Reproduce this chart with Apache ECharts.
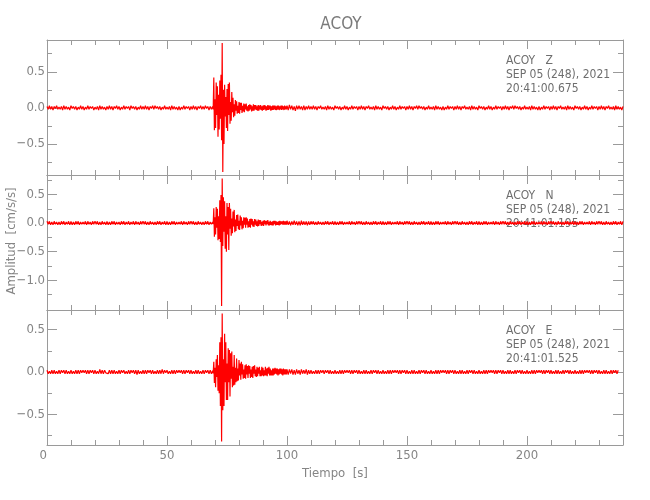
<!DOCTYPE html>
<html>
<head>
<meta charset="utf-8">
<script src="https://cdn.jsdelivr.net/npm/echarts@6/dist/echarts.min.js"></script>
<style>
html,body{margin:0;padding:0;background:#fff;}
#chart{width:650px;height:500px;}
</style>
</head>
<body>
<div id="chart"></div>
<script>
// ---- Data ----
const stationName = 'ACOY';
const components = ['Z', 'N', 'E'];
const dateLabel = 'SEP 05 (248), 2021';
const startTimes = ['20:41:00.675', '20:41:01.195', '20:41:01.525'];

const xTickValues = [0, 50, 100, 150, 200];
const xMinorValues = [10, 20, 30, 40, 60, 70, 80, 90, 110, 120, 130, 140, 160, 170, 180, 190, 210, 220, 230];

const yLimits = [[-0.93, 0.94], [-1.52, 0.84], [-0.86, 0.73]];
const yTickValues = [[-0.5, 0, 0.5], [-1.0, -0.5, 0, 0.5], [-0.5, 0, 0.5]];
const yMinorValues = [[-0.75, -0.25, 0.25, 0.75], [-1.25, -0.75, -0.25, 0.25, 0.75], [-0.75, -0.25, 0.25]];

// segment sampling (seconds)
const PRE_START = 0, PRE_STEP = 0.5;
const EVENT_START = 69, EVENT_STEP = 0.25;
const POST_START = 100, POST_STEP = 0.5;

// ---- Z component ----
const zPre = [
 0.02,-0.02,0.03,-0.02,0.02,-0.03,0.02,-0.01,0.03,-0.02,
 0.01,-0.02,0.02,-0.03,0.03,-0.02,0.02,-0.02,0.01,-0.03,
 0.03,-0.01,0.02,-0.02,0.02,-0.03,0.01,-0.02,0.03,-0.02,
 0.02,-0.03,0.01,-0.02,0.03,-0.02,0.02,-0.01,0.02,-0.03,
 0.01,-0.02,0.02,-0.03,0.03,-0.02,0.02,-0.02,0.01,-0.03,
 0.02,-0.02,0.03,-0.02,0.02,-0.03,0.02,-0.01,0.03,-0.02,
 0.02,-0.03,0.01,-0.02,0.03,-0.02,0.02,-0.01,0.02,-0.03,
 0.03,-0.01,0.02,-0.02,0.02,-0.03,0.01,-0.02,0.03,-0.02,
 0.02,-0.02,0.03,-0.02,0.02,-0.03,0.02,-0.01,0.03,-0.02,
 0.03,-0.01,0.02,-0.02,0.02,-0.03,0.01,-0.02,0.03,-0.02,
 0.01,-0.02,0.02,-0.03,0.03,-0.02,0.02,-0.02,0.01,-0.03,
 0.02,-0.03,0.01,-0.02,0.03,-0.02,0.02,-0.01,0.02,-0.03,
 0.02,-0.02,0.03,-0.02,0.02,-0.03,0.02,-0.01,0.03,-0.02,
 0.02,-0.02,0.03,-0.01,0.02,-0.03,0.02,-0.02];
const zEvent = [
 0.02,-0.02,0.42,-0.31,0.12,-0.28,0.35,-0.10,0.30,-0.40,
 0.18,-0.30,0.38,-0.15,0.46,-0.45,0.90,-0.89,0.25,-0.50,
 0.32,-0.12,0.15,-0.28,0.26,-0.32,0.33,-0.10,0.35,-0.22,
 0.08,-0.18,0.22,-0.06,0.14,-0.13,0.05,-0.11,0.11,-0.04,
 0.09,-0.08,0.03,-0.07,0.08,-0.08,0.07,-0.03,0.07,-0.07,
 0.03,-0.05,0.06,-0.06,0.05,-0.02,0.06,-0.04,0.02,-0.05,
 0.04,-0.04,0.05,-0.02,0.04,-0.05,0.02,-0.04,0.05,-0.04,
 0.04,-0.02,0.04,-0.03,0.02,-0.04,0.04,-0.04,0.03,-0.02,
 0.04,-0.03,0.02,-0.04,0.03,-0.03,0.04,-0.02,0.03,-0.04,
 0.02,-0.03,0.04,-0.03,0.03,-0.02,0.03,-0.04,0.02,-0.03,
 0.03,-0.03,0.03,-0.02,0.03,-0.03,0.02,-0.03,0.03,-0.02,
 0.03,-0.03,0.02,-0.02,0.03,-0.03,0.03,-0.02,0.02,-0.03,
 0.03,-0.02,0.02,-0.02];
const zPost = [
 0.03,-0.03,0.04,-0.02,0.03,-0.03,0.02,-0.04,0.03,-0.02,
 0.03,-0.02,0.02,-0.03,0.03,-0.03,0.02,-0.02,0.03,-0.02,
 0.02,-0.02,0.03,-0.02,0.02,-0.03,0.02,-0.01,0.03,-0.02,
 0.01,-0.02,0.02,-0.03,0.03,-0.02,0.02,-0.02,0.01,-0.03,
 0.03,-0.01,0.02,-0.02,0.02,-0.03,0.01,-0.02,0.03,-0.02,
 0.02,-0.03,0.01,-0.02,0.03,-0.02,0.02,-0.01,0.02,-0.03,
 0.02,-0.02,0.03,-0.02,0.02,-0.03,0.02,-0.01,0.03,-0.02,
 0.01,-0.02,0.02,-0.03,0.03,-0.02,0.02,-0.02,0.01,-0.03,
 0.03,-0.01,0.02,-0.02,0.02,-0.03,0.01,-0.02,0.03,-0.02,
 0.02,-0.03,0.01,-0.02,0.03,-0.02,0.02,-0.01,0.02,-0.03,
 0.02,-0.02,0.03,-0.02,0.02,-0.03,0.02,-0.01,0.03,-0.02,
 0.03,-0.01,0.02,-0.02,0.02,-0.03,0.01,-0.02,0.03,-0.02,
 0.01,-0.02,0.02,-0.03,0.03,-0.02,0.02,-0.02,0.01,-0.03,
 0.02,-0.03,0.01,-0.02,0.03,-0.02,0.02,-0.01,0.02,-0.03,
 0.02,-0.02,0.03,-0.02,0.02,-0.03,0.02,-0.01,0.03,-0.02,
 0.01,-0.02,0.02,-0.03,0.03,-0.02,0.02,-0.02,0.01,-0.03,
 0.03,-0.01,0.02,-0.02,0.02,-0.03,0.01,-0.02,0.03,-0.02,
 0.02,-0.03,0.01,-0.02,0.03,-0.02,0.02,-0.01,0.02,-0.03,
 0.02,-0.02,0.03,-0.02,0.02,-0.03,0.02,-0.01,0.03,-0.02,
 0.03,-0.01,0.02,-0.02,0.02,-0.03,0.01,-0.02,0.03,-0.02,
 0.01,-0.02,0.02,-0.03,0.03,-0.02,0.02,-0.02,0.01,-0.03,
 0.02,-0.03,0.01,-0.02,0.03,-0.02,0.02,-0.01,0.02,-0.03,
 0.02,-0.02,0.03,-0.02,0.02,-0.03,0.02,-0.01,0.03,-0.02,
 0.01,-0.02,0.02,-0.03,0.03,-0.02,0.02,-0.02,0.01,-0.03,
 0.03,-0.01,0.02,-0.02,0.02,-0.03,0.01,-0.02,0.03,-0.02,
 0.02,-0.03,0.01,-0.02,0.03,-0.02,0.02,-0.01,0.02,-0.03,
 0.02,-0.02,0.03,-0.02,0.02,-0.03,0.02,-0.01,0.03,-0.02,
 0.01,-0.02,0.02,-0.03,0.03,-0.02,0.02,-0.02,0.01,-0.03,
 0.02];

// ---- N component ----
const nPre = [
 0.03,-0.02,0.03,-0.03,0.02,-0.03,0.03,-0.02,0.02,-0.03,
 0.02,-0.03,0.03,-0.02,0.03,-0.03,0.02,-0.02,0.03,-0.03,
 0.03,-0.03,0.02,-0.03,0.03,-0.02,0.03,-0.03,0.02,-0.02,
 0.02,-0.02,0.03,-0.03,0.03,-0.02,0.02,-0.03,0.03,-0.02,
 0.03,-0.02,0.03,-0.03,0.02,-0.03,0.03,-0.02,0.02,-0.03,
 0.03,-0.03,0.02,-0.03,0.03,-0.02,0.03,-0.03,0.02,-0.02,
 0.02,-0.03,0.03,-0.02,0.03,-0.03,0.02,-0.02,0.03,-0.03,
 0.02,-0.02,0.03,-0.03,0.03,-0.02,0.02,-0.03,0.03,-0.02,
 0.03,-0.02,0.03,-0.03,0.02,-0.03,0.03,-0.02,0.02,-0.03,
 0.02,-0.03,0.03,-0.02,0.03,-0.03,0.02,-0.02,0.03,-0.03,
 0.03,-0.03,0.02,-0.03,0.03,-0.02,0.03,-0.03,0.02,-0.02,
 0.02,-0.02,0.03,-0.03,0.03,-0.02,0.02,-0.03,0.03,-0.02,
 0.03,-0.02,0.03,-0.03,0.02,-0.03,0.03,-0.02,0.02,-0.03,
 0.02,-0.03,0.03,-0.02,0.03,-0.03,0.02,-0.02];
const nEvent = [
 0.02,-0.02,0.26,-0.24,0.10,-0.20,0.28,-0.08,0.25,-0.30,
 0.12,-0.28,0.40,-0.33,0.49,-1.45,0.78,-0.40,0.45,-0.15,
 0.38,-0.45,0.12,-0.50,0.35,-0.20,0.28,-0.47,0.35,-0.10,
 0.25,-0.22,0.08,-0.18,0.20,-0.06,0.23,-0.16,0.06,-0.14,
 0.14,-0.05,0.15,-0.11,0.04,-0.12,0.13,-0.04,0.10,-0.11,
 0.04,-0.09,0.10,-0.03,0.09,-0.08,0.10,-0.03,0.08,-0.08,
 0.03,-0.07,0.07,-0.08,0.08,-0.03,0.07,-0.06,0.03,-0.07,
 0.07,-0.03,0.06,-0.05,0.03,-0.06,0.06,-0.05,0.05,-0.02,
 0.05,-0.05,0.02,-0.04,0.04,-0.05,0.05,-0.02,0.04,-0.04,
 0.04,-0.02,0.05,-0.04,0.02,-0.04,0.04,-0.03,0.02,-0.04,
 0.03,-0.04,0.04,-0.02,0.04,-0.04,0.03,-0.03,0.02,-0.03,
 0.03,-0.04,0.04,-0.03,0.03,-0.02,0.03,-0.03,0.04,-0.03,
 0.03,-0.03,0.03,-0.03];
const nPost = [
 0.04,-0.03,0.03,-0.04,0.03,-0.03,0.04,-0.03,0.03,-0.04,
 0.03,-0.04,0.04,-0.03,0.03,-0.03,0.03,-0.04,0.03,-0.03,
 0.03,-0.02,0.03,-0.03,0.02,-0.03,0.03,-0.02,0.02,-0.03,
 0.02,-0.03,0.03,-0.02,0.03,-0.03,0.02,-0.02,0.03,-0.03,
 0.03,-0.03,0.02,-0.03,0.03,-0.02,0.03,-0.03,0.02,-0.02,
 0.02,-0.02,0.03,-0.03,0.03,-0.02,0.02,-0.03,0.03,-0.02,
 0.03,-0.02,0.03,-0.03,0.02,-0.03,0.03,-0.02,0.02,-0.03,
 0.02,-0.03,0.03,-0.02,0.03,-0.03,0.02,-0.02,0.03,-0.03,
 0.03,-0.03,0.02,-0.03,0.03,-0.02,0.03,-0.03,0.02,-0.02,
 0.02,-0.02,0.03,-0.03,0.03,-0.02,0.02,-0.03,0.03,-0.02,
 0.03,-0.02,0.03,-0.03,0.02,-0.03,0.03,-0.02,0.02,-0.03,
 0.02,-0.03,0.03,-0.02,0.03,-0.03,0.02,-0.02,0.03,-0.03,
 0.03,-0.03,0.02,-0.03,0.03,-0.02,0.03,-0.03,0.02,-0.02,
 0.02,-0.02,0.03,-0.03,0.03,-0.02,0.02,-0.03,0.03,-0.02,
 0.03,-0.02,0.03,-0.03,0.02,-0.03,0.03,-0.02,0.02,-0.03,
 0.02,-0.03,0.03,-0.02,0.03,-0.03,0.02,-0.02,0.03,-0.03,
 0.03,-0.03,0.02,-0.03,0.03,-0.02,0.03,-0.03,0.02,-0.02,
 0.02,-0.02,0.03,-0.03,0.03,-0.02,0.02,-0.03,0.03,-0.02,
 0.03,-0.02,0.03,-0.03,0.02,-0.03,0.03,-0.02,0.02,-0.03,
 0.02,-0.03,0.03,-0.02,0.03,-0.03,0.02,-0.02,0.03,-0.03,
 0.03,-0.03,0.02,-0.03,0.03,-0.02,0.03,-0.03,0.02,-0.02,
 0.02,-0.02,0.03,-0.03,0.03,-0.02,0.02,-0.03,0.03,-0.02,
 0.03,-0.02,0.03,-0.03,0.02,-0.03,0.03,-0.02,0.02,-0.03,
 0.02,-0.03,0.03,-0.02,0.03,-0.03,0.02,-0.02,0.03,-0.03,
 0.03,-0.03,0.02,-0.03,0.03,-0.02,0.03,-0.03,0.02,-0.02,
 0.02,-0.02,0.03,-0.03,0.03,-0.02,0.02,-0.03,0.03,-0.02,
 0.03,-0.02,0.03,-0.03,0.02,-0.03,0.03,-0.02,0.02,-0.03,
 0.02,-0.03,0.03,-0.02,0.03,-0.03,0.02,-0.02,0.03,-0.03,
 0.03];

// ---- E component ----
const ePre = [
 0.02,-0.02,0.01,-0.02,0.02,-0.02,0.02,-0.02,0.01,-0.02,
 0.02,-0.02,0.02,-0.01,0.02,-0.02,0.02,-0.02,0.01,-0.02,
 0.02,-0.02,0.01,-0.02,0.02,-0.02,0.02,-0.02,0.02,-0.01,
 0.02,-0.01,0.02,-0.02,0.02,-0.02,0.02,-0.01,0.02,-0.02,
 0.02,-0.02,0.01,-0.02,0.03,-0.02,0.02,-0.02,0.02,-0.01,
 0.01,-0.02,0.02,-0.02,0.02,-0.02,0.02,-0.02,0.01,-0.02,
 0.02,-0.02,0.02,-0.01,0.02,-0.02,0.01,-0.02,0.02,-0.02,
 0.02,-0.01,0.02,-0.02,0.02,-0.03,0.02,-0.02,0.01,-0.02,
 0.02,-0.02,0.02,-0.02,0.02,-0.01,0.02,-0.02,0.02,-0.02,
 0.01,-0.02,0.02,-0.02,0.02,-0.02,0.03,-0.02,0.02,-0.01,
 0.02,-0.02,0.01,-0.02,0.02,-0.02,0.02,-0.02,0.02,-0.01,
 0.02,-0.01,0.02,-0.02,0.02,-0.02,0.02,-0.01,0.02,-0.02,
 0.02,-0.02,0.01,-0.02,0.02,-0.02,0.02,-0.02,0.01,-0.02,
 0.02,-0.02,0.02,-0.01,0.02,-0.02,0.02,-0.02];
const eEvent = [
 0.015,-0.015,0.12,-0.13,0.05,-0.18,0.15,-0.06,0.20,-0.22,
 0.08,-0.25,0.35,-0.40,0.41,-0.82,0.69,-0.45,0.15,-0.40,
 0.45,-0.12,0.35,-0.33,0.10,-0.33,0.28,-0.12,0.26,-0.29,
 0.22,-0.08,0.24,-0.18,0.06,-0.16,0.20,-0.15,0.05,-0.12,
 0.16,-0.11,0.04,-0.10,0.14,-0.04,0.10,-0.09,0.12,-0.03,
 0.09,-0.08,0.03,-0.07,0.08,-0.08,0.09,-0.03,0.07,-0.07,
 0.08,-0.02,0.07,-0.07,0.03,-0.06,0.06,-0.07,0.07,-0.02,
 0.08,-0.05,0.03,-0.06,0.06,-0.05,0.05,-0.02,0.06,-0.05,
 0.02,-0.05,0.06,-0.04,0.05,-0.05,0.02,-0.04,0.06,-0.04,
 0.04,-0.05,0.05,-0.02,0.06,-0.04,0.04,-0.04,0.02,-0.04,
 0.04,-0.04,0.04,-0.03,0.05,-0.02,0.04,-0.03,0.04,-0.04,
 0.03,-0.03,0.04,-0.02,0.04,-0.03,0.03,-0.04,0.04,-0.03,
 0.03,-0.03,0.03,-0.03];
const ePost = [
 0.03,-0.03,0.03,-0.02,0.03,-0.03,0.02,-0.03,0.03,-0.02,
 0.02,-0.03,0.03,-0.02,0.02,-0.02,0.03,-0.03,0.02,-0.02,
 0.02,-0.02,0.01,-0.02,0.02,-0.02,0.02,-0.02,0.02,-0.01,
 0.02,-0.02,0.02,-0.01,0.02,-0.02,0.02,-0.02,0.01,-0.02,
 0.02,-0.02,0.01,-0.02,0.02,-0.02,0.02,-0.02,0.02,-0.01,
 0.02,-0.01,0.02,-0.02,0.02,-0.02,0.02,-0.01,0.02,-0.02,
 0.02,-0.02,0.01,-0.02,0.02,-0.02,0.02,-0.02,0.01,-0.02,
 0.02,-0.02,0.02,-0.01,0.02,-0.02,0.02,-0.02,0.01,-0.02,
 0.02,-0.02,0.01,-0.02,0.02,-0.02,0.02,-0.02,0.02,-0.01,
 0.02,-0.01,0.02,-0.02,0.02,-0.02,0.02,-0.01,0.02,-0.02,
 0.02,-0.02,0.01,-0.02,0.02,-0.02,0.02,-0.02,0.01,-0.02,
 0.02,-0.02,0.02,-0.01,0.02,-0.02,0.02,-0.02,0.01,-0.02,
 0.02,-0.02,0.01,-0.02,0.02,-0.02,0.02,-0.02,0.02,-0.01,
 0.02,-0.01,0.02,-0.02,0.02,-0.02,0.02,-0.01,0.02,-0.02,
 0.02,-0.02,0.01,-0.02,0.02,-0.02,0.02,-0.02,0.01,-0.02,
 0.02,-0.02,0.02,-0.01,0.02,-0.02,0.02,-0.02,0.01,-0.02,
 0.02,-0.02,0.01,-0.02,0.02,-0.02,0.02,-0.02,0.02,-0.01,
 0.02,-0.01,0.02,-0.02,0.02,-0.02,0.02,-0.01,0.02,-0.02,
 0.02,-0.02,0.01,-0.02,0.02,-0.02,0.02,-0.02,0.01,-0.02,
 0.02,-0.02,0.02,-0.01,0.02,-0.02,0.02,-0.02,0.01,-0.02,
 0.02,-0.02,0.01,-0.02,0.02,-0.02,0.02,-0.02,0.02,-0.01,
 0.02,-0.01,0.02,-0.02,0.02,-0.02,0.02,-0.01,0.02,-0.02,
 0.02,-0.02,0.01,-0.02,0.02,-0.02,0.02,-0.02,0.01,-0.02,
 0.02,-0.02,0.02,-0.01,0.02,-0.02,0.02,-0.02,0.01,-0.02,
 0.02,-0.02,0.01,-0.02,0.02,-0.02,0.02,-0.02,0.02,-0.01,
 0.02,-0.01,0.02,-0.02,0.02,-0.02,0.02,-0.01,0.02,-0.02,
 0.02,-0.02,0.01,-0.02,0.02,-0.02,0.02,-0.02,0.01,-0.02,
 0.02,-0.02,0.02,-0.01,0.02,-0.02,0.02];

// ---- Build ----
function buildTrace(pre, ev, post) {
  const d = [];
  pre.forEach((v, i) => d.push([PRE_START + i * PRE_STEP, v]));
  ev.forEach((v, i) => d.push([EVENT_START + i * EVENT_STEP, v]));
  post.forEach((v, i) => d.push([POST_START + i * POST_STEP, v]));
  return d;
}
const traces = [buildTrace(zPre, zEvent, zPost), buildTrace(nPre, nEvent, nPost), buildTrace(ePre, eEvent, ePost)];

const FONT = "'Liberation Sans Narrow', 'DejaVu Sans Condensed', 'Liberation Sans', sans-serif";
const AXIS_COLOR = '#9a9a9a';
const LABEL_COLOR = '#858585';
const TEXT_COLOR = '#6e6e6e';

const gridTops = [40, 175, 310];
const gridH = 135;
const grids = gridTops.map(t => ({left: 47, right: 27, top: t, height: gridH, containLabel: false}));

function fmtY(v) {
  if (v === 0) return '0.0';
  return v.toFixed(1).replace('-', '\u2212');
}

const xAxes = [], yAxes = [];
for (let g = 0; g < 3; g++) {
  const base = {type: 'value', gridIndex: g, min: 0, max: 240, splitLine: {show: false}};
  xAxes.push(Object.assign({}, base, {
    position: 'bottom',
    axisLine: {show: true, onZero: false, lineStyle: {color: AXIS_COLOR, width: 1}},
    axisTick: {show: true, inside: true, length: 9, customValues: xTickValues, lineStyle: {color: AXIS_COLOR}},
    axisLabel: {show: g === 2, customValues: xTickValues, alignMinLabel: 'right', margin: 4, color: LABEL_COLOR, fontFamily: FONT, fontSize: 13},
    name: g === 2 ? 'Tiempo  [s]' : '',
    nameLocation: 'middle', nameGap: 22,
    nameTextStyle: {color: LABEL_COLOR, fontFamily: FONT, fontSize: 13}
  }));
  xAxes.push(Object.assign({}, base, {
    position: 'bottom',
    axisLine: {show: false, onZero: false},
    axisTick: {show: true, inside: true, length: 5, customValues: xMinorValues, lineStyle: {color: AXIS_COLOR}},
    axisLabel: {show: false}
  }));
  xAxes.push(Object.assign({}, base, {
    position: 'top',
    axisLine: {show: true, onZero: false, lineStyle: {color: AXIS_COLOR, width: 1}},
    axisTick: {show: true, inside: true, length: 9, customValues: xTickValues, lineStyle: {color: AXIS_COLOR}},
    axisLabel: {show: false}
  }));
  xAxes.push(Object.assign({}, base, {
    position: 'top',
    axisLine: {show: false, onZero: false},
    axisTick: {show: true, inside: true, length: 5, customValues: xMinorValues, lineStyle: {color: AXIS_COLOR}},
    axisLabel: {show: false}
  }));

  const yb = {type: 'value', gridIndex: g, min: yLimits[g][0], max: yLimits[g][1], splitLine: {show: false}};
  yAxes.push(Object.assign({}, yb, {
    position: 'left',
    axisLine: {show: true, onZero: false, lineStyle: {color: AXIS_COLOR, width: 1}},
    axisTick: {show: true, inside: true, length: 10, customValues: yTickValues[g], lineStyle: {color: AXIS_COLOR}},
    axisLabel: {show: true, customValues: yTickValues[g], formatter: fmtY, margin: 2, color: LABEL_COLOR, fontFamily: FONT, fontSize: 13}
  }));
  yAxes.push(Object.assign({}, yb, {
    position: 'left',
    axisLine: {show: false, onZero: false},
    axisTick: {show: true, inside: true, length: 5, customValues: yMinorValues[g], lineStyle: {color: AXIS_COLOR}},
    axisLabel: {show: false}
  }));
  yAxes.push(Object.assign({}, yb, {
    position: 'right',
    axisLine: {show: true, onZero: false, lineStyle: {color: AXIS_COLOR, width: 1}},
    axisTick: {show: true, inside: true, length: 10, customValues: yTickValues[g], lineStyle: {color: AXIS_COLOR}},
    axisLabel: {show: false}
  }));
  yAxes.push(Object.assign({}, yb, {
    position: 'right',
    axisLine: {show: false, onZero: false},
    axisTick: {show: true, inside: true, length: 5, customValues: yMinorValues[g], lineStyle: {color: AXIS_COLOR}},
    axisLabel: {show: false}
  }));
}

const series = traces.map((d, g) => ({
  type: 'line',
  xAxisIndex: g * 4,
  yAxisIndex: g * 4,
  data: d,
  showSymbol: false,
  symbol: 'none',
  sampling: 'none',
  lineStyle: {color: '#ff0000', width: 1.2},
  itemStyle: {color: '#ff0000'},
  animation: false,
  silent: true
}));

const graphics = [];
for (let g = 0; g < 3; g++) {
  const lines = [stationName + '   ' + components[g], dateLabel, startTimes[g]];
  lines.forEach((txt, k) => {
    graphics.push({
      type: 'text', left: 506, top: gridTops[g] + 15 + k * 14, silent: true,
      style: {text: txt, fill: TEXT_COLOR, font: '12px ' + FONT}
    });
  });
}
graphics.push({
  type: 'text', x: 12, y: 241, rotation: Math.PI / 2, silent: true,
  style: {text: 'Amplitud  [cm/s/s]', fill: LABEL_COLOR, font: '13px ' + FONT, align: 'center', verticalAlign: 'middle'}
});

const chart = echarts.init(document.getElementById('chart'), null, {renderer: 'canvas'});
chart.setOption({
  animation: false,
  backgroundColor: '#ffffff',
  title: {
    text: stationName, left: 336, top: 11, textAlign: 'center',
    textStyle: {color: '#7a7a7a', fontFamily: FONT, fontSize: 17, fontWeight: 'normal'}
  },
  grid: grids,
  xAxis: xAxes,
  yAxis: yAxes,
  series: series,
  graphic: graphics
});
</script>
</body>
</html>
